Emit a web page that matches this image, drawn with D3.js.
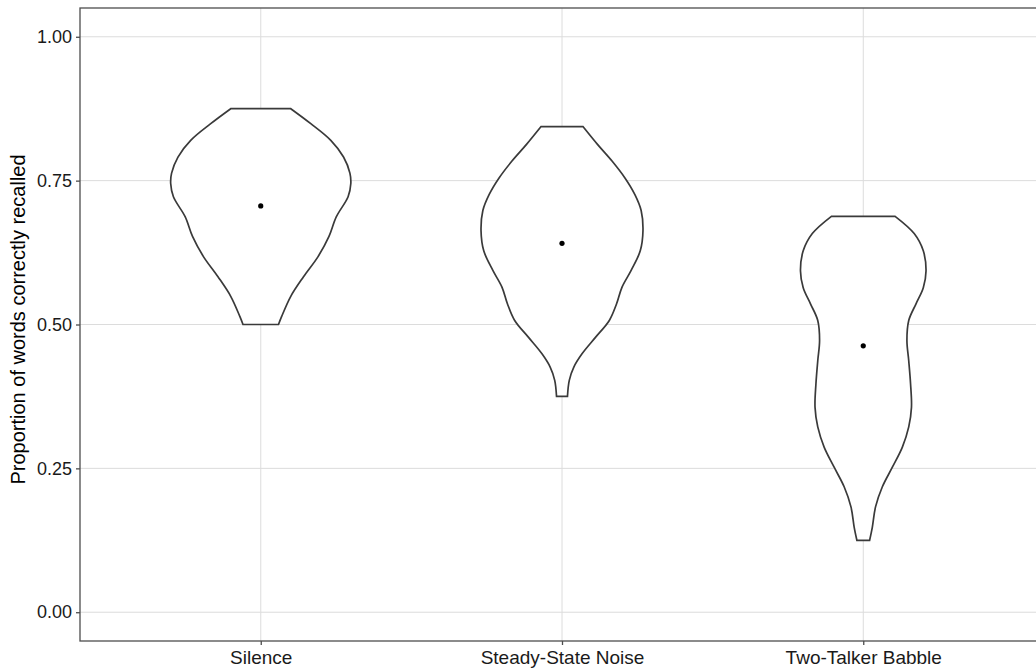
<!DOCTYPE html>
<html lang="en">
<head>
    <meta charset="UTF-8">
    <title>Proportion of words correctly recalled</title>
    <script src="https://cdn.jsdelivr.net/npm/d3@7"></script>
    <style>
        body { margin: 0; background: #fff; }
        svg { display: block; font-family: "Liberation Sans", Arial, sans-serif; }
        .grid line { stroke: #dcdcdc; stroke-width: 1; }
        .violin { fill: #fff; stroke: #3a3a3a; stroke-width: 1.7; }
        .tick-label { fill: #1a1a1a; }
    </style>
</head>
<body>
    <svg width="1036" height="669"></svg>
    <script>
        const categories = ["Silence", "Steady-State Noise", "Two-Talker Babble"];
        const yTicks = [0, 0.25, 0.5, 0.75, 1];

        // violin outlines: y values and relative density (1 = widest)
        const silenceY = [0.875, 0.849, 0.820, 0.791, 0.763, 0.745, 0.722, 0.687, 0.653, 0.618, 0.583, 0.549, 0.514, 0.500];
        const silenceW = [0.33, 0.55, 0.77, 0.91, 0.98, 0.99, 0.96, 0.83, 0.75, 0.63, 0.47, 0.33, 0.23, 0.195];
        const steadyY = [0.844, 0.813, 0.784, 0.755, 0.726, 0.698, 0.663, 0.628, 0.594, 0.565, 0.536, 0.507, 0.478, 0.449, 0.426, 0.403, 0.375];
        const steadyW = [0.23, 0.39, 0.55, 0.69, 0.80, 0.87, 0.89, 0.86, 0.76, 0.66, 0.60, 0.52, 0.37, 0.22, 0.13, 0.08, 0.06];
        const babbleY = [0.688, 0.658, 0.628, 0.593, 0.564, 0.536, 0.507, 0.472, 0.437, 0.397, 0.356, 0.322, 0.287, 0.252, 0.218, 0.183, 0.148, 0.125];
        const babbleW = [0.35, 0.56, 0.66, 0.69, 0.66, 0.58, 0.50, 0.48, 0.50, 0.52, 0.53, 0.50, 0.43, 0.32, 0.21, 0.135, 0.10, 0.07];
        const means = [0.706, 0.641, 0.463];

        const violins = [
            { cat: categories[0], y: silenceY, w: silenceW },
            { cat: categories[1], y: steadyY, w: steadyW },
            { cat: categories[2], y: babbleY, w: babbleW }
        ];

        const pLeft = 80, pTop = 8, pRight = 1044, pBottom = 641;
        const svg = d3.select("svg");

        const x = d3.scalePoint().domain(categories).range([pLeft, pRight]).padding(0.6);
        const y = d3.scaleLinear().domain([-0.05, 1.05]).range([pBottom, pTop]);
        const halfMax = x.step() * 0.302; // widest half-width

        // grid
        const grid = svg.append("g").attr("class", "grid");
        grid.selectAll(".gy").data(yTicks).enter().append("line")
            .attr("x1", pLeft).attr("x2", pRight)
            .attr("y1", d => y(d)).attr("y2", d => y(d));
        grid.selectAll(".gx").data(categories).enter().append("line")
            .attr("x1", d => x(d)).attr("x2", d => x(d))
            .attr("y1", pTop).attr("y2", pBottom);

        // violins
        violins.forEach(v => {
            const pts = v.y.map((d, i) => ({ y: d, w: v.w[i] }));
            const cx = x(v.cat);
            const area = d3.area()
                .y(d => y(d.y))
                .x0(d => cx - d.w * halfMax)
                .x1(d => cx + d.w * halfMax)
                .curve(d3.curveCatmullRom);
            svg.append("path").attr("class", "violin").attr("d", area(pts));
        });

        // mean points
        svg.selectAll(".mean").data(means).enter().append("circle")
            .attr("cx", (d, i) => x(categories[i]))
            .attr("cy", d => y(d))
            .attr("r", 2.6)
            .attr("fill", "#000");

        // panel border
        svg.append("rect")
            .attr("x", pLeft).attr("y", pTop)
            .attr("width", pRight - pLeft).attr("height", pBottom - pTop)
            .attr("fill", "none").attr("stroke", "#4d4d4d").attr("stroke-width", 1.3);

        // axes
        const yAxis = svg.append("g")
            .attr("transform", `translate(${pLeft},0)`)
            .call(d3.axisLeft(y).tickValues(yTicks).tickFormat(d3.format(".2f")).tickSize(4).tickPadding(4));
        const xAxis = svg.append("g")
            .attr("transform", `translate(0,${pBottom})`)
            .call(d3.axisBottom(x).tickSize(4).tickPadding(6));
        [yAxis, xAxis].forEach(a => {
            a.select(".domain").remove();
            a.selectAll(".tick line").attr("stroke", "#4d4d4d").attr("stroke-width", 1.3);
            a.selectAll(".tick text").attr("class", "tick-label").attr("font-family", null);
        });
        yAxis.selectAll(".tick text").attr("font-size", 18);
        xAxis.selectAll(".tick text").attr("font-size", 19);

        svg.append("text")
            .attr("transform", `translate(25,${(pTop + pBottom) / 2 - 5}) rotate(-90)`)
            .attr("text-anchor", "middle")
            .attr("font-size", 20)
            .attr("fill", "#000")
            .text("Proportion of words correctly recalled");
    </script>
</body>
</html>
